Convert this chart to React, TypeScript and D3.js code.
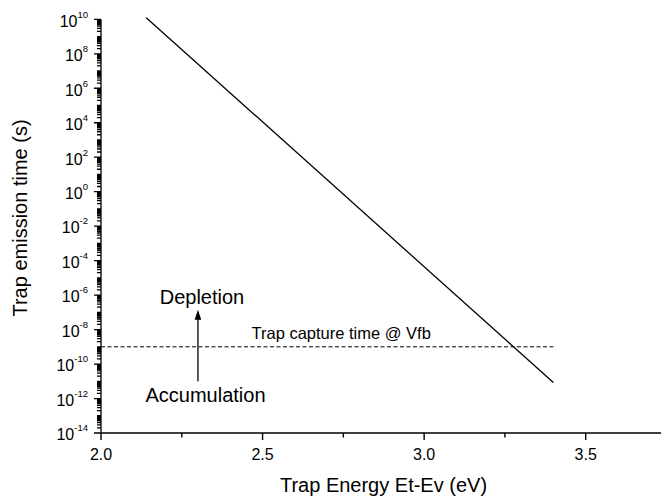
import React from "react";
import * as d3 from "d3";

// ---- data ----
const energy = [2.14, 3.4];
const emissionTime = [1.24e10, 8.5e-12];
const captureEnergy = [2.0, 3.4];
const captureTime = [1e-9, 1e-9];
const xTicks = [2.0, 2.5, 3.0, 3.5];
const xTickLabels = ["2.0", "2.5", "3.0", "3.5"];
const xMinorTicks = [2.25, 2.75, 3.25];
const yTickExponents = [10, 8, 6, 4, 2, 0, -2, -4, -6, -8, -10, -12, -14];
const arrowEnergy = [2.3, 2.3];
const arrowTime = [1e-11, 1.4e-7];

const W = 661;
const H = 501;
const FONT = "'Liberation Sans', Arial, sans-serif";

export default function App() {
  const x = d3.scaleLinear().domain([2.0, 3.5]).range([101, 585.7]);
  const y = d3.scaleLog().domain([1e-14, 1e10]).range([433, 19.3]);

  const line = d3
    .line<[number, number]>()
    .x((d) => x(d[0]))
    .y((d) => y(d[1]));

  const curve: [number, number][] = energy.map((e, i) => [e, emissionTime[i]]);
  const capture: [number, number][] = captureEnergy.map((e, i) => [e, captureTime[i]]);

  // minor y ticks: k*10^n and odd decades
  const yMinor: number[] = [];
  for (let n = -14; n < 10; n++) {
    for (let k = 2; k <= 9; k++) yMinor.push(k * Math.pow(10, n));
    if (n % 2 !== 0) yMinor.push(Math.pow(10, n));
  }

  const axisX0 = x(2.0);
  const axisY0 = y(1e-14);
  const axisYTop = y(1e10);

  let yAxisPath = `M${axisX0},${axisYTop}V${axisY0}`;
  yMinor.forEach((v) => {
    const ty = y(v);
    yAxisPath += `M${axisX0 - 4},${ty}H${axisX0}`;
  });
  yTickExponents.forEach((n) => {
    const ty = y(Math.pow(10, n));
    yAxisPath += `M${axisX0 - 7},${ty}H${axisX0}`;
  });

  let xAxisPath = `M${axisX0},${axisY0}H${W}`;
  xTicks.forEach((t) => {
    xAxisPath += `M${x(t)},${axisY0}V${axisY0 + 7}`;
  });
  xMinorTicks.forEach((t) => {
    xAxisPath += `M${x(t)},${axisY0}V${axisY0 + 4.5}`;
  });

  const ax = x(arrowEnergy[0]);
  const ay0 = y(arrowTime[0]);
  const ay1 = y(arrowTime[1]);

  return (
    <svg
      width={W}
      height={H}
      style={{ position: "absolute", left: 0, top: 0, background: "#fff" }}
      fontFamily={FONT}
    >
      <rect width={W} height={H} fill="#fff" />
      {/* dashed capture time line */}
      <path
        d={line(capture) || ""}
        stroke="#000"
        strokeWidth={1}
        strokeDasharray="4,2.5"
        fill="none"
      />
      <text x={251.5} y={338.5} fontSize={16.5} fill="#000">
        Trap capture time @ Vfb
      </text>

      {/* emission time curve */}
      <path d={line(curve) || ""} stroke="#000" strokeWidth={1.3} fill="none" />

      {/* arrow annotation */}
      <line x1={ax} x2={ax} y1={ay0} y2={ay1 + 8} stroke="#000" strokeWidth={1.3} />
      <path
        d={`M${ax},${ay1} L${ax - 3.3},${ay1 + 10} L${ax + 3.3},${ay1 + 10} Z`}
        fill="#000"
      />
      <text x={202} y={304} fontSize={20} textAnchor="middle" fill="#000">
        Depletion
      </text>
      <text x={205.5} y={401.5} fontSize={20} textAnchor="middle" fill="#000">
        Accumulation
      </text>

      {/* axes */}
      <path d={xAxisPath} stroke="#000" strokeWidth={1.4} fill="none" />
      <path d={yAxisPath} stroke="#000" strokeWidth={1.3} fill="none" />

      {xTicks.map((t, i) => (
        <text key={"xl" + t} x={x(t)} y={460} fontSize={16} textAnchor="middle" fill="#000">
          {xTickLabels[i]}
        </text>
      ))}
      {yTickExponents.map((n) => {
        const ty = y(Math.pow(10, n));
        return (
          <text key={"yl" + n} x={88} y={ty + 7.3} fontSize={16} textAnchor="end" fill="#000">
            <tspan>10</tspan>
            <tspan fontSize={9.5} dy={-9}>
              {String(n)}
            </tspan>
          </text>
        );
      })}

      {/* axis titles */}
      <text x={383.5} y={492} fontSize={20} textAnchor="middle" fill="#000">
        Trap Energy Et-Ev (eV)
      </text>
      <text
        transform={`translate(27,218) rotate(-90)`}
        fontSize={20}
        textAnchor="middle"
        fill="#000"
      >
        Trap emission time (s)
      </text>
    </svg>
  );
}
